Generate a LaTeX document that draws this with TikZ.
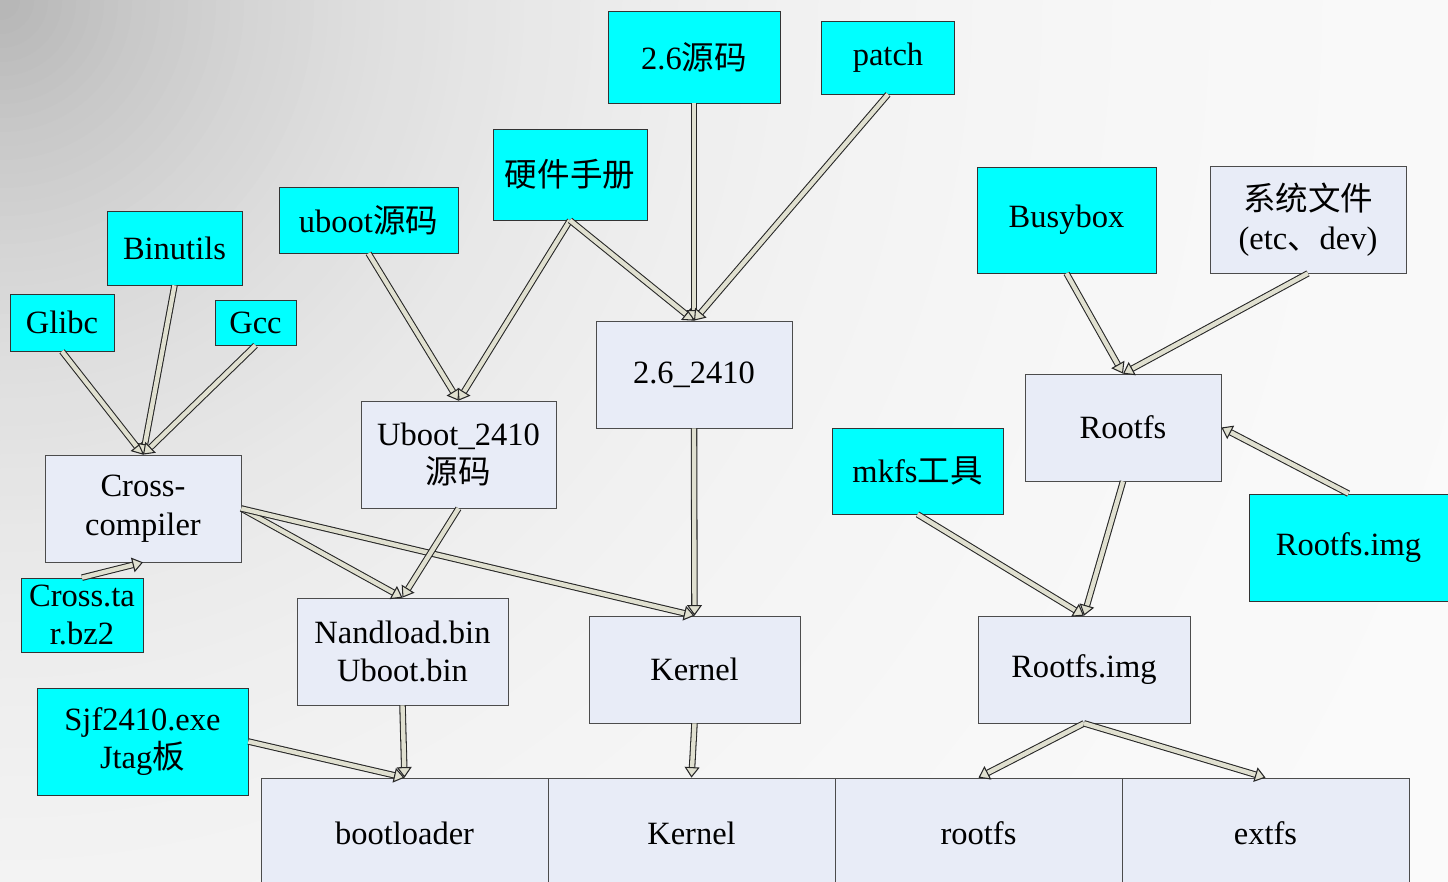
\documentclass[tikz,border=0pt]{standalone}
\usepackage{fontspec}
\setmainfont{Liberation Serif}
\newfontfamily\cjk{Noto Sans CJK SC}
\usetikzlibrary{arrows.meta}
\definecolor{aqua}{RGB}{0,255,255}
\definecolor{lav}{RGB}{232,236,247}
\definecolor{pipefill}{RGB}{224,224,208}
\tikzset{
  cbox/.style 2 args={draw=black!80, fill=aqua, minimum width=#1*0.02cm,
    minimum height=#2*0.02cm, align=center, inner sep=1pt},
  lbox/.style 2 args={draw=black!70, fill=lav, minimum width=#1*0.02cm,
    minimum height=#2*0.02cm, align=center, inner sep=1pt},
  pipe/.style={draw=pipefill, line width=2.5pt,
    preaction={draw=black!85, line width=3.7pt, -, shorten >=4pt},
    -{Triangle[length=6pt,width=8.5pt,fill=pipefill,color=black!85,line width=0.6pt 0]}}
}
\begin{document}
\begin{tikzpicture}[x=0.02cm, y=-0.02cm, font=\fontsize{18.5}{22}\selectfont]
  \clip (0,0) rectangle (1448,882);
  % background, grey in the upper left corner
  \foreach \i in {0,...,120} {
    \pgfmathsetmacro\rad{1700-\i*14}
    \pgfmathtruncatemacro\lev{252-72*exp(-\rad/420)}
    \definecolor{bgc}{RGB}{\lev,\lev,\lev}
    \fill[bgc] (0,0) circle[radius=\rad*0.02cm];
  }
  % sources
  \node[cbox={172}{92}] (src) at (694,57) {2.6\cjk 源码};
  \node[cbox={133}{73}] (patch) at (888,57.5) {patch};
  \node[cbox={154}{91}] (hw) at (570,174.5) {\cjk 硬件手册};
  \node[cbox={179}{66}] (usrc) at (368.5,220) {uboot\cjk 源码};
  \node[cbox={135}{74}] (binutils) at (174.5,248) {Binutils};
  \node[cbox={104}{57}] (glibc) at (62,322.5) {Glibc};
  \node[cbox={81}{45}] (gcc) at (255.5,322.5) {Gcc};
  \node[cbox={179}{106}] (busybox) at (1066.5,220) {Busybox};
  \node[lbox={196}{107}] (sysf) at (1308,219.5) {\cjk 系统文件\\(etc{\cjk 、}dev)};
  \node[cbox={171}{86}] (mkfs) at (917.5,471) {mkfs\cjk 工具};
  \node[cbox={199}{107}] (rimgsrc) at (1348.5,547.5) {Rootfs.img};
  \node[cbox={122}{74}] (ctar) at (82,615) {Cross.ta\\r.bz2};
  \node[cbox={211}{107}] (sjf) at (142.5,741.5) {Sjf2410.exe\\Jtag\cjk 板};
  % built parts
  \node[lbox={196}{107}] (k2410) at (694,374.5) {2.6\_2410};
  \node[lbox={196}{107}] (rootfs) at (1123,427.5) {Rootfs};
  \node[lbox={195}{107}] (ub2410) at (458.5,454.5) {Uboot\_2410\\\cjk 源码};
  \node[lbox={196}{107}] (cross) at (143,508.5) {Cross-\\compiler};
  \node[lbox={211}{107}] (nand) at (402.5,651.5) {Nandload.bin\\Uboot.bin};
  \node[lbox={211}{107}] (kern) at (694.5,669.5) {Kernel};
  \node[lbox={212}{107}] (rimg) at (1084,669.5) {Rootfs.img};
  % flash layout
  \node[lbox={287}{110}] (boot) at (404.5,833) {bootloader};
  \node[lbox={287}{110}] (kflash) at (691.5,833) {Kernel};
  \node[lbox={287}{110}] (rflash) at (978.5,833) {rootfs};
  \node[lbox={287}{110}] (eflash) at (1265.5,833) {extfs};
  % arrows
  \draw[pipe] (glibc.south) -- (cross.north);
  \draw[pipe] (binutils.south) -- (cross.north);
  \draw[pipe] (gcc.south) -- (cross.north);
  \draw[pipe] (ctar.north) -- (cross.south);
  \draw[pipe] (usrc.south) -- (ub2410.north);
  \draw[pipe] (hw.south) -- (ub2410.north);
  \draw[pipe] (hw.south) -- (k2410.north);
  \draw[pipe] (src.south) -- (k2410.north);
  \draw[pipe] (patch.south) -- (k2410.north);
  \draw[pipe] (busybox.south) -- (rootfs.north);
  \draw[pipe] (sysf.south) -- (rootfs.north);
  \draw[pipe] (rimgsrc.north) -- (rootfs.east);
  \draw[pipe] (rootfs.south) -- (rimg.north);
  \draw[pipe] (mkfs.south) -- (rimg.north);
  \draw[pipe] (cross.east) -- (nand.north);
  \draw[pipe] (cross.east) -- (kern.north);
  \draw[pipe] (ub2410.south) -- (nand.north);
  \draw[pipe] (k2410.south) -- (kern.north);
  \draw[pipe] (sjf.east) -- (boot.north);
  \draw[pipe] (nand.south) -- (boot.north);
  \draw[pipe] (kern.south) -- (kflash.north);
  \draw[pipe] (rimg.south) -- (rflash.north);
  \draw[pipe] (rimg.south) -- (eflash.north);
\end{tikzpicture}
\end{document}
